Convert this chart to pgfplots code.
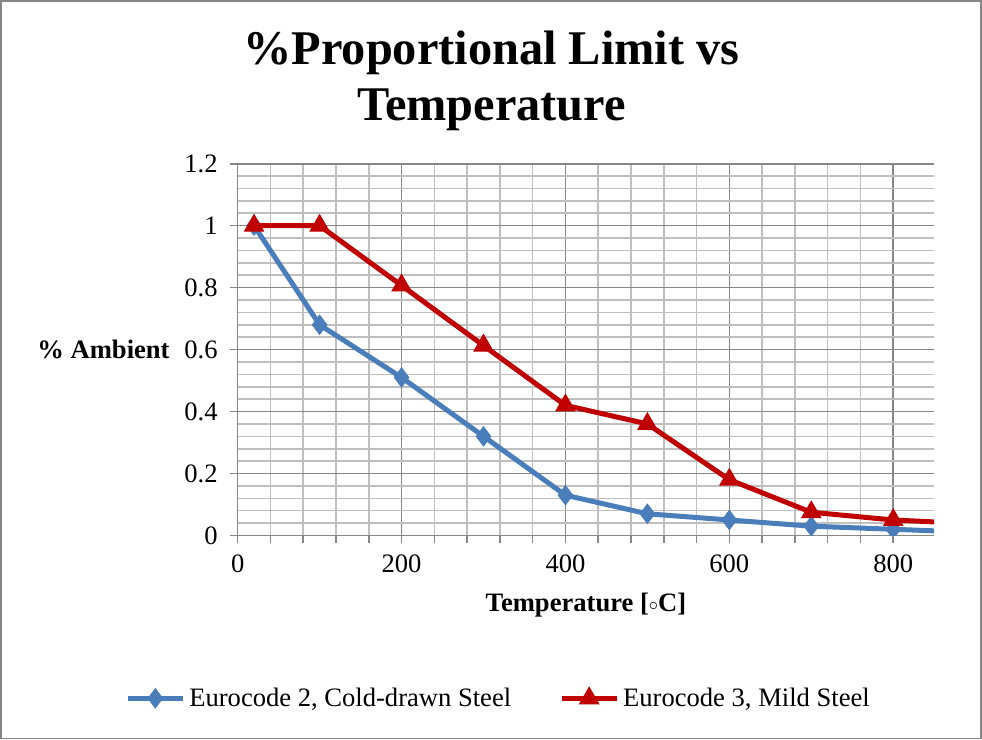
\documentclass[border=0pt]{standalone}
\usepackage{fontspec}
\setmainfont{Liberation Serif}
\usepackage{pgfplots}
\pgfplotsset{compat=1.18}
\definecolor{eublue}{RGB}{74,126,187}
\definecolor{eured}{RGB}{192,0,0}
\definecolor{majgrid}{RGB}{134,134,134}
\definecolor{mingrid}{RGB}{191,191,191}
\begin{document}
\begin{tikzpicture}
\draw[draw=majgrid, line width=0.8pt] (-118.5pt,-101.5pt) rectangle (372pt,267.5pt);
\node[font=\fontsize{24.2}{28}\selectfont\bfseries, align=center] at (127pt,227.5pt) {\%Proportional Limit vs\\Temperature};
\begin{axis}[
  at={(0,0)}, anchor=south west,
  scale only axis,
  width=348.5pt, height=186pt,
  xmin=0, xmax=850, ymin=0, ymax=1.2,
  clip marker paths=true,
  axis x line*=bottom, axis y line*=left,
  axis line style={draw=majgrid, line width=0.8pt, -},
  xtick={0,200,400,600,800},
  ytick={0,0.2,0.4,0.6,0.8,1,1.2},
  yticklabels={0,0.2,0.4,0.6,0.8,1,1.2},
  minor x tick num=4,
  minor y tick num=4,
  grid=both,
  major grid style={draw=majgrid, line width=0.8pt},
  minor grid style={draw=mingrid, line width=0.8pt},
  tick align=outside,
  major tick length=4pt,
  minor tick length=4pt,
  tick style={draw=majgrid, line width=0.8pt},
  minor y tick style={draw=none},
  /pgf/number format/assume math mode=true,
  ticklabel style={font=\fontsize{13.3}{15}\selectfont},
  xticklabel style={yshift=-2pt},
  yticklabel style={xshift=-2.5pt},
  xlabel={\textbf{Temperature [{\raisebox{0.6pt}{$\scriptstyle\circ$}}C]}},
  xlabel style={font=\fontsize{13.3}{15}\selectfont, at={(axis description cs:0.5,0)}, anchor=center, yshift=-35pt},
  ylabel={\textbf{\% Ambient}},
  ylabel style={font=\fontsize{13.3}{15}\selectfont, rotate=-90, at={(axis description cs:0,0.5)}, anchor=east, xshift=-30.5pt},
  legend columns=2,
  legend style={draw=none, fill=none, at={(axis description cs:0.376,-0.438)}, anchor=center,
    font=\fontsize{13.3}{15}\selectfont, /tikz/every even column/.append style={column sep=22pt}},
  legend cell align=left,
  legend image code/.code={\draw[mark repeat=2,mark phase=2,#1] plot coordinates {(0pt,0pt) (13.75pt,0pt) (27.5pt,0pt)};},
]
\addplot[color=eublue, line width=2.5pt, mark=diamond*, mark size=4.8pt, mark options={solid, line width=0.5pt, fill=eublue}]
  coordinates {(20,1) (100,0.68) (200,0.51) (300,0.32) (400,0.13) (500,0.07) (600,0.05) (700,0.03) (800,0.02) (900,0.01)};
\addlegendentry{Eurocode 2, Cold-drawn Steel}
\addplot[color=eured, line width=2.5pt, mark=triangle*, mark size=5.5pt, mark options={solid, line width=0.5pt, fill=eured}]
  coordinates {(20,1) (100,1) (200,0.807) (300,0.613) (400,0.42) (500,0.36) (600,0.18) (700,0.075) (800,0.05) (900,0.0375)};
\addlegendentry{Eurocode 3, Mild Steel}
\end{axis}
\end{tikzpicture}
\end{document}
